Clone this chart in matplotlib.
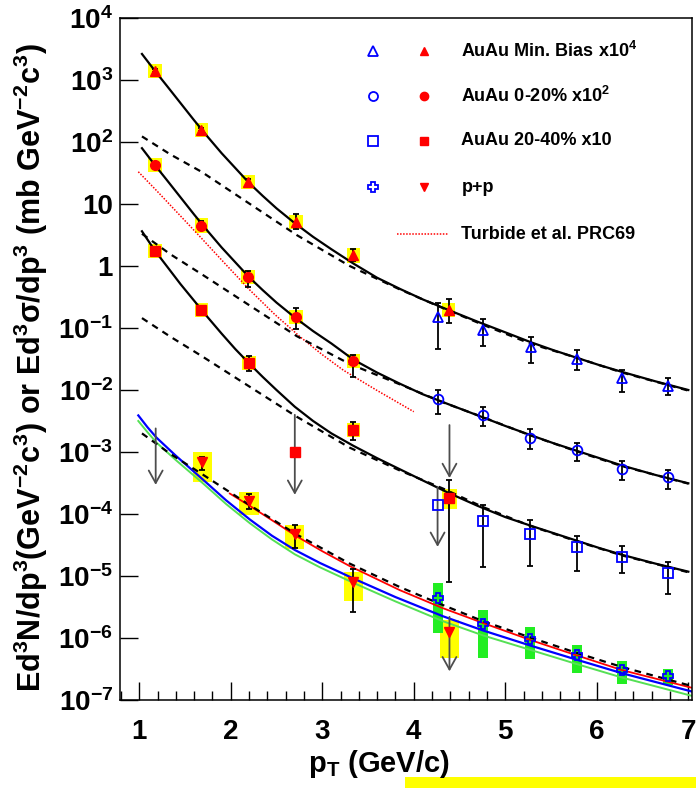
import matplotlib
matplotlib.use("Agg")
import matplotlib.pyplot as plt
from matplotlib.patches import Rectangle
import numpy as np

plt.rcParams['font.family'] = ['Liberation Sans', 'DejaVu Sans']
plt.rcParams['font.weight'] = 'bold'
plt.rcParams['mathtext.fontset'] = 'custom'
plt.rcParams['mathtext.rm'] = 'Liberation Sans:bold'
plt.rcParams['mathtext.it'] = 'Liberation Sans:bold'
plt.rcParams['mathtext.bf'] = 'Liberation Sans:bold'

# ---- AuAu min. bias x10^4 ----
mb_pt = np.array([1.17, 1.68, 2.19, 2.71, 3.34, 4.38])
mb_y = np.array([1410, 158, 22.6, 5.1, 1.48, 0.197])
mb_lo = np.array([1330, 148, 20.5, 4.0, 1.2, 0.12])
mb_hi = np.array([1500, 170, 25, 6.8, 1.9, 0.29])

mbb_pt = np.array([4.26, 4.76, 5.28, 5.78, 6.28, 6.78])
mbb_y = np.array([0.151, 0.093, 0.049, 0.0316, 0.0155, 0.0116])
mbb_lo = np.array([0.0457, 0.0507, 0.0269, 0.0209, 0.00933, 0.00832])
mbb_hi = np.array([0.251, 0.140, 0.0708, 0.0442, 0.0214, 0.0155])

# ---- AuAu 0-20% x10^2 ----
c0_pt = np.array([1.17, 1.68, 2.19, 2.71, 3.34])
c0_y = np.array([43, 4.5, 0.66, 0.151, 0.0295])
c0_lo = np.array([40.5, 3.8, 0.457, 0.0977, 0.0162])
c0_hi = np.array([45.5, 5.4, 0.84, 0.209, 0.0363])

c0b_pt = np.array([4.26, 4.76, 5.27, 5.78, 6.28, 6.78])
c0b_y = np.array([0.0071, 0.0040, 0.0017, 0.00107, 5.4e-4, 3.9e-4])
c0b_lo = np.array([0.00407, 0.00263, 0.0011, 0.000724, 0.000355, 0.000257])
c0b_hi = np.array([0.0100, 0.00537, 0.00234, 0.00141, 0.000724, 0.000513])

# ---- AuAu 20-40% x10 ----
c2_pt = np.array([1.17, 1.68, 2.20, 3.34, 4.39])
c2_y = np.array([1.77, 0.197, 0.027, 0.00226, 1.78e-4])
c2_lo = np.array([1.68, 0.187, 0.0204, 0.00155, 8.1e-6])
c2_hi = np.array([1.86, 0.207, 0.0355, 0.00309, 3.55e-4])
c2_lim_pt = 2.70
c2_lim_y = 1.0e-3

c2b_pt = np.array([4.76, 5.27, 5.78, 6.28, 6.78])
c2b_y = np.array([7.8e-5, 4.8e-5, 2.9e-5, 2.05e-5, 1.12e-5])
c2b_lo = np.array([1.41e-5, 1.45e-5, 1.2e-5, 1.1e-5, 5.2e-6])
c2b_hi = np.array([1.40e-4, 8.1e-5, 4.47e-5, 3.0e-5, 1.7e-5])
c2b_lim_pt = 4.26
c2b_lim_y = 1.4e-4

# ---- p+p ----
pp_pt = np.array([1.69, 2.20, 2.70, 3.34])
pp_y = np.array([7.0e-4, 1.6e-4, 4.7e-5, 8.1e-6])
pp_lo = np.array([5.1e-4, 1.2e-4, 2.8e-5, 2.6e-6])
pp_hi = np.array([8.2e-4, 2.1e-4, 6.6e-5, 1.32e-5])
pp_sys_pt = np.array([1.69, 2.20, 2.70, 3.34, 4.39])
pp_sys_lo = np.array([3.3e-4, 9.5e-5, 2.7e-5, 3.9e-6, 4.7e-7])
pp_sys_hi = np.array([9.9e-4, 2.3e-4, 6.6e-5, 1.17e-5, 1.95e-6])
pp_lim_pt = 4.39
pp_lim_y = 1.26e-6

ppb_pt = np.array([4.26, 4.76, 5.27, 5.78, 6.28, 6.78])
ppb_y = np.array([4.5e-6, 1.7e-6, 9.5e-7, 5.4e-7, 3.0e-7, 2.4e-7])
ppb_sys_lo = np.array([1.2e-6, 4.7e-7, 4.6e-7, 2.7e-7, 1.78e-7, 1.74e-7])
ppb_sys_hi = np.array([7.7e-6, 2.8e-6, 1.48e-6, 7.8e-7, 4.3e-7, 3.2e-7])

# upper-limit arrows: (pt, start, end)
arrows = [(1.18, 2.4e-3, 2.95e-4),
          (2.70, 3.98e-3, 2.04e-4),
          (4.26, 2.75e-4, 2.95e-5),
          (4.39, 2.72e-3, 3.8e-4),
          (4.39, 2.19e-6, 2.9e-7)]

# ---- curves as log10 values ----
fit_x = [1.03, 1.17, 1.3, 1.45, 1.6, 1.75, 1.9, 2.05, 2.2, 2.35, 2.5, 2.7, 2.9, 3.1,
         3.34, 3.6, 3.85, 4.1, 4.38, 4.7, 5.0, 5.28, 5.53, 5.78, 6.03, 6.28, 6.64, 7.0]
mb_fit_log = [3.42, 3.15, 2.91, 2.63, 2.35, 2.08, 1.82, 1.58, 1.34, 1.13, 0.93, 0.69,
              0.47, 0.27, 0.04, -0.19, -0.37, -0.54, -0.71, -0.90, -1.07, -1.23, -1.36,
              -1.48, -1.60, -1.71, -1.86, -2.0]
c0_fit_log = [1.90, 1.63, 1.39, 1.11, 0.83, 0.56, 0.30, 0.06, -0.18, -0.39, -0.59, -0.83,
              -1.05, -1.25, -1.51, -1.72, -1.90, -2.07, -2.23, -2.41, -2.58, -2.73, -2.86,
              -2.98, -3.10, -3.22, -3.37, -3.505]
c2_fit_log = [0.56, 0.25, 0.00, -0.29, -0.56, -0.83, -1.09, -1.34, -1.57, -1.79, -2.00,
              -2.27, -2.50, -2.70, -2.90, -3.10, -3.28, -3.46, -3.66, -3.87, -4.05, -4.19,
              -4.31, -4.43, -4.55, -4.66, -4.80, -4.93]

dash_x = [1.03, 1.34, 1.68, 2.21, 2.72, 3.30, 3.85, 4.32, 4.76, 5.27, 5.78, 6.28, 7.0]
mb_dash_log = [2.09, 1.80, 1.52, 1.00, 0.50, 0.0, -0.38, -0.68, -0.95, -1.25, -1.48,
               -1.72, -2.01]
c0_dash_log = [0.52, 0.19, -0.13, -0.64, -1.13, -1.58, -1.91, -2.20, -2.44, -2.73, -2.99,
               -3.23, -3.51]
c2_dash_log = [-0.84, -1.14, -1.45, -1.95, -2.43, -2.93, -3.30, -3.59, -3.89, -4.19,
               -4.44, -4.67, -4.94]
pp_dash_log = [-2.70, -3.03, -3.35, -3.86, -4.33, -4.80, -5.18, -5.47, -5.73, -5.99,
               -6.24, -6.47, -6.76]

red_fit_x = [1.99, 2.21, 2.45, 2.72, 3.0, 3.30, 3.85, 4.32, 4.76, 5.27, 5.78, 6.28, 7.03]
red_fit_log = [-3.67, -3.87, -4.10, -4.36, -4.60, -4.84, -5.23, -5.52, -5.76, -6.03,
               -6.28, -6.52, -6.80]
bg_fit_x = [0.99, 1.09, 1.19, 1.4, 1.70, 1.95, 2.21, 2.45, 2.70, 2.975, 3.34, 3.8, 4.32,
            4.76, 5.27, 5.78, 6.28, 7.03]
blue_fit_log = [-2.41, -2.60, -2.77, -3.06, -3.45, -3.78, -4.09, -4.35, -4.58, -4.79,
                -5.04, -5.34, -5.65, -5.88, -6.12, -6.35, -6.57, -6.86]
green_fit_log = [-2.50, -2.68, -2.85, -3.13, -3.51, -3.84, -4.15, -4.41, -4.65, -4.86,
                 -5.11, -5.41, -5.73, -5.96, -6.19, -6.42, -6.64, -6.93]

turb_x = [0.99, 1.2, 1.43, 1.66, 1.93, 2.21, 2.48, 2.76, 3.0, 3.23, 3.59, 4.0]
turb_log = [1.52, 1.20, 0.84, 0.48, 0.05, -0.39, -0.78, -1.145, -1.43, -1.68, -2.0, -2.35]

ytick_vals = [1e-7, 1e-6, 1e-5, 1e-4, 1e-3, 1e-2, 1e-1, 1, 10, 1e2, 1e3, 1e4]
ytick_labels = ['10$^{-7}$', '10$^{-6}$', '10$^{-5}$', '10$^{-4}$', '10$^{-3}$',
                '10$^{-2}$', '10$^{-1}$', '1', '10', '10$^{2}$', '10$^{3}$', '10$^{4}$']
xtick_vals = [1, 2, 3, 4, 5, 6, 7]

legend_labels = ['AuAu Min. Bias x10$^{4}$', 'AuAu 0-20% x10$^{2}$',
                 'AuAu 20-40% x10', 'p+p', 'Turbide et al. PRC69']

YEL = '#ffff00'
GRN = '#22ee22'

fig = plt.figure(figsize=(6.96, 7.88), dpi=100)
ax = fig.add_axes([120/696, 1-700/788, 572/696, 682/788])
ax.set_yscale('log')
ax.set_xlim(0.79, 7.04)
ax.set_ylim(1e-7, 1e4)


def sys_boxes(xs, lo, hi, hw, color):
    for x, a, b in zip(xs, lo, hi):
        ax.add_patch(Rectangle((x - hw, a), 2*hw, b - a, facecolor=color,
                               edgecolor='none', zorder=1))


def lg(v):
    return 10.0 ** np.asarray(v)


# systematic boxes
sys_boxes(mb_pt, mb_y/1.3, mb_y*1.3, 0.075, YEL)
sys_boxes(c0_pt, c0_y/1.3, c0_y*1.3, 0.075, YEL)
sys_boxes(c2_pt[:4], c2_y[:4]/1.3, c2_y[:4]*1.3, 0.075, YEL)
sys_boxes(c2_pt[4:], c2_y[4:]/1.5, c2_y[4:]*1.4, 0.085, YEL)
sys_boxes(pp_sys_pt, pp_sys_lo, pp_sys_hi, 0.105, YEL)
sys_boxes(ppb_pt, ppb_sys_lo, ppb_sys_hi, 0.055, GRN)

# curves
for fy in [mb_fit_log, c0_fit_log, c2_fit_log]:
    ax.plot(fit_x, lg(fy), color='black', lw=1.6, zorder=3)
for dy in [mb_dash_log, c0_dash_log, c2_dash_log, pp_dash_log]:
    ax.plot(dash_x, lg(dy), color='black', lw=1.6, ls=(0, (3, 2.5)), zorder=3)
ax.plot(bg_fit_x, lg(green_fit_log), color='#55e055', lw=1.4, zorder=2)
ax.plot(bg_fit_x, lg(blue_fit_log), color='blue', lw=1.6, zorder=2)
ax.plot(red_fit_x, lg(red_fit_log), color='red', lw=1.3, zorder=2)
ax.plot(turb_x, lg(turb_log), color='red', lw=1.1, ls=(0, (1, 1)), zorder=2)

# error bars
eb = dict(fmt='none', ecolor='black', elinewidth=1.3, capsize=2.5, capthick=1.3, zorder=4)
for x, y, lo, hi in [(mb_pt, mb_y, mb_lo, mb_hi), (mbb_pt, mbb_y, mbb_lo, mbb_hi),
                     (c0_pt, c0_y, c0_lo, c0_hi), (c0b_pt, c0b_y, c0b_lo, c0b_hi),
                     (c2_pt, c2_y, c2_lo, c2_hi), (c2b_pt, c2b_y, c2b_lo, c2b_hi),
                     (pp_pt, pp_y, pp_lo, pp_hi)]:
    ax.errorbar(x, y, yerr=[y - lo, hi - y], **eb)

# upper limits
for x, y0, y1 in arrows:
    ax.annotate('', xy=(x, y1), xytext=(x, y0),
                arrowprops=dict(arrowstyle='->,head_length=0.45,head_width=0.25',
                                color='0.3', lw=1.3, mutation_scale=20,
                                shrinkA=0, shrinkB=0), zorder=4)

# markers
red = dict(color='red', ls='none', ms=7, zorder=5)
blue = dict(color='blue', mfc='none', mec='blue', mew=1.3, ls='none', ms=7, zorder=5)
ax.plot(mb_pt, mb_y, '^', **red)
ax.plot(c0_pt, c0_y, 'o', **red)
ax.plot(c2_pt, c2_y, 's', **red)
ax.plot([c2_lim_pt], [c2_lim_y], 's', **red)
ax.plot(pp_pt, pp_y, 'v', **red)
ax.plot([pp_lim_pt], [pp_lim_y], 'v', **red)
ax.plot(mbb_pt, mbb_y, '^', **blue)
ax.plot(c0b_pt, c0b_y, 'o', **blue)
ax.plot(c2b_pt, c2b_y, 's', **blue)
ax.plot([c2b_lim_pt], [c2b_lim_y], 's', **blue)
ax.plot(ppb_pt, ppb_y, 'P', **blue)

# legend drawn by hand
rows = [0.952, 0.886, 0.820, 0.752, 0.683]
for yy, mk in zip(rows[:4], ['^', 'o', 's', 'P']):
    ax.plot([0.443], [yy], mk, transform=ax.transAxes, color='blue', mfc='none',
            mec='blue', mew=1.3, ms=6.5, zorder=6)
for yy, mk in zip(rows[:4], ['^', 'o', 's', 'v']):
    ax.plot([0.531], [yy], mk, transform=ax.transAxes, color='red', ms=6, zorder=6)
ax.plot([0.485, 0.574], [rows[4], rows[4]], transform=ax.transAxes, color='red',
        lw=1.1, ls=(0, (1, 1)))
for yy, lab in zip(rows, legend_labels):
    ax.text(0.597, yy, lab, transform=ax.transAxes, fontsize=13, fontweight='bold',
            va='center', ha='left')

# axes styling
ax.set_yticks(ytick_vals)
ax.set_yticklabels(ytick_labels)
ax.set_xticks(xtick_vals)
ax.set_xticklabels([str(v) for v in xtick_vals])
ax.set_xticks(np.arange(0.8, 7.01, 0.2), minor=True)
ax.tick_params(axis='both', which='major', direction='in', length=13, width=1.0,
               labelsize=20, top=False, right=False)
ax.tick_params(axis='both', which='minor', direction='in', length=6.5, width=1.0,
               top=False, right=False)
ax.tick_params(axis='x', which='major', pad=14)
ax.tick_params(axis='y', which='major', pad=5)
for s in ax.spines.values():
    s.set_linewidth(1.1)

fig.text(31/696, 1 - 368/788,
         'Ed$^{3}$N/dp$^{3}$(GeV$^{-2}$c$^{3}$) or Ed$^{3}$\u03c3/dp$^{3}$ (mb GeV$^{-2}$c$^{3}$)',
         rotation=90, ha='center', va='center', fontsize=22, fontweight='bold')
fig.text(379/696, 1 - 764/788, 'p$_{T}$ (GeV/c)', ha='center', va='center',
         fontsize=21, fontweight='bold')

fig.patches.append(Rectangle((405/696, 0), 291/696, 11/788, transform=fig.transFigure,
                             facecolor=YEL, edgecolor='none'))

fig.savefig('out.png', dpi=100)
